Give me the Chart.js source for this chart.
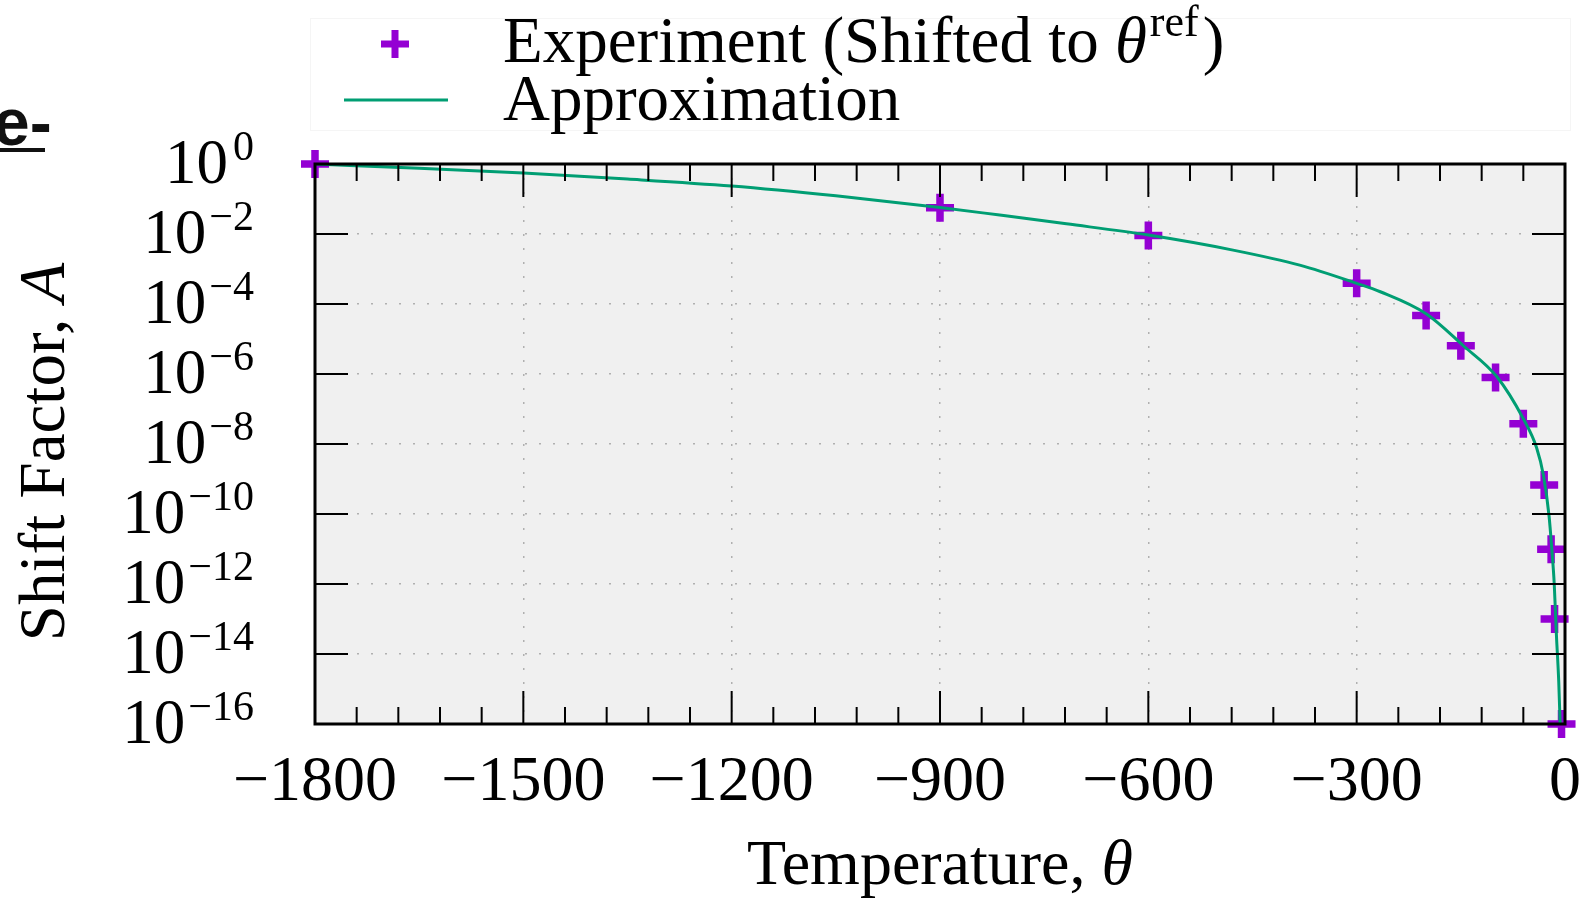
<!DOCTYPE html>
<html>
<head>
<meta charset="utf-8">
<script src="https://cdn.jsdelivr.net/npm/chart.js@4.4.1/dist/chart.umd.min.js"></script>
<style>
  body { margin: 0; background: #fff; }
  canvas { display: block; }
</style>
</head>
<body>
<canvas id="chart" width="1588" height="898"></canvas>
<script>
// experiment points (temperature, log10 of shift factor)
const tempExp = [-1800, -900, -600, -300, -200, -150, -100, -60, -30, -20, -15, -5];
const logExp = [0, -1.25, -2.04, -3.41, -4.33, -5.19, -6.1, -7.42, -9.17, -11.01, -13.0, -16.0];

// approximation curve
const tempFit = [-1800, -1650, -1500, -1350, -1200, -1050, -900, -814, -718, -600, -478, -382,
  -300, -266, -200, -146, -98, -60, -41, -31, -23, -19, -15.5, -12.5, -9, -7];
const logFit = [0, -0.12, -0.26, -0.43, -0.63, -0.91, -1.24, -1.46, -1.71, -2.03, -2.46, -2.89,
  -3.41, -3.65, -4.28, -5.2, -6.08, -7.28, -8.1, -8.9, -10.05, -11.0, -12.0, -13.4, -14.8, -16.0];

const xTicks = [-1800, -1500, -1200, -900, -600, -300, 0];
const yTickExp = [0, -2, -4, -6, -8, -10, -12, -14, -16];

const purple = "#9400d3";
const green = "#009e73";
const serif = "'Liberation Serif', 'DejaVu Serif', serif";

const toPoints = (xs, es) => xs.map((x, i) => ({ x: x, y: Math.pow(10, es[i]) }));

const minus = (s) => String(s).replace("-", "\u2212");

// background, frame, inward ticks, labels and legend
const decor = {
  id: "decor",
  beforeDraw(chart) {
    const { ctx, chartArea: a } = chart;
    ctx.save();
    ctx.fillStyle = "#f0f0f0";
    ctx.fillRect(a.left, a.top, a.right - a.left, a.bottom - a.top);
    ctx.restore();
  },
  afterDraw(chart) {
    const { ctx, chartArea: a } = chart;
    const xs = chart.scales.x;
    const ys = chart.scales.y;
    ctx.save();

    // tick marks
    ctx.strokeStyle = "#000";
    ctx.lineWidth = 2;
    ctx.beginPath();
    for (let v = -1800; v <= 0; v += 60) {
      const px = xs.getPixelForValue(v);
      const len = v % 300 === 0 ? 33 : 17;
      ctx.moveTo(px, a.bottom); ctx.lineTo(px, a.bottom - len);
      ctx.moveTo(px, a.top); ctx.lineTo(px, a.top + len);
    }
    yTickExp.forEach((e) => {
      const py = ys.getPixelForValue(Math.pow(10, e));
      ctx.moveTo(a.left, py); ctx.lineTo(a.left + 33, py);
      ctx.moveTo(a.right, py); ctx.lineTo(a.right - 33, py);
    });
    ctx.stroke();

    // frame
    ctx.lineWidth = 3;
    ctx.strokeRect(a.left, a.top, a.right - a.left, a.bottom - a.top);

    ctx.fillStyle = "#000";
    ctx.textBaseline = "alphabetic";

    // x tick labels
    ctx.font = "64px " + serif;
    ctx.textAlign = "center";
    xTicks.forEach((v) => {
      ctx.fillText(minus(v), xs.getPixelForValue(v), 800);
    });

    // y tick labels 10^n
    ctx.textAlign = "left";
    yTickExp.forEach((e) => {
      const py = ys.getPixelForValue(Math.pow(10, e));
      const sup = minus(e);
      ctx.font = "42px " + serif;
      const sw = ctx.measureText(sup).width;
      ctx.font = "63px " + serif;
      const mw = ctx.measureText("10").width;
      const right = 254;
      const gap = e === 0 ? 5 : 3;
      ctx.fillText("10", right - sw - gap - mw, py + 19);
      ctx.font = "42px " + serif;
      ctx.fillText(sup, right - sw, py - 4);
    });

    // x title
    ctx.font = "64px " + serif;
    const t1 = "Temperature, ";
    const w1 = ctx.measureText(t1).width;
    ctx.font = "italic 64px " + serif;
    const w2 = ctx.measureText("\u03b8").width;
    const cx = (a.left + a.right) / 2;
    let x0 = cx - (w1 + w2) / 2;
    ctx.font = "64px " + serif;
    ctx.fillText(t1, x0, 884);
    ctx.font = "italic 64px " + serif;
    ctx.fillText("\u03b8", x0 + w1, 884);

    // y title
    ctx.save();
    ctx.translate(64, 452);
    ctx.rotate(-Math.PI / 2);
    ctx.font = "65px " + serif;
    const y1 = "Shift Factor, ";
    const yw1 = ctx.measureText(y1).width;
    ctx.font = "italic 65px " + serif;
    const yw2 = ctx.measureText("A").width;
    x0 = -(yw1 + yw2) / 2;
    ctx.font = "65px " + serif;
    ctx.fillText(y1, x0, 0);
    ctx.font = "italic 65px " + serif;
    ctx.fillText("A", x0 + yw1, 0);
    ctx.restore();

    // legend box, barely visible
    ctx.strokeStyle = "#f5f5f5";
    ctx.lineWidth = 1;
    ctx.strokeRect(310.5, 18.5, 1260, 112);

    // legend marker
    ctx.strokeStyle = purple;
    ctx.lineWidth = 7;
    ctx.beginPath();
    ctx.moveTo(381, 44); ctx.lineTo(409, 44);
    ctx.moveTo(395, 30); ctx.lineTo(395, 58);
    ctx.stroke();
    // legend line
    ctx.strokeStyle = green;
    ctx.lineWidth = 3;
    ctx.beginPath();
    ctx.moveTo(344, 100); ctx.lineTo(448, 100);
    ctx.stroke();

    ctx.fillStyle = "#000";
    let lx = 503;
    ctx.font = "65px " + serif;
    const l1 = "Experiment (Shifted to ";
    ctx.fillText(l1, lx, 62);
    lx += ctx.measureText(l1).width;
    ctx.font = "italic 65px " + serif;
    ctx.fillText("\u03b8", lx, 62);
    lx += ctx.measureText("\u03b8").width + 3;
    ctx.font = "44px " + serif;
    ctx.fillText("ref", lx, 36);
    lx += ctx.measureText("ref").width + 4;
    ctx.font = "65px " + serif;
    ctx.fillText(")", lx, 62);
    ctx.fillText("Approximation", 503, 120);

    // cropped slide text at the left edge
    ctx.font = "bold 66px 'Liberation Sans', Arial, sans-serif";
    ctx.fillStyle = "#111";
    ctx.fillText("e-", -7, 145);
    ctx.fillRect(0, 148, 45, 4);

    ctx.restore();
  }
};

new Chart(document.getElementById("chart"), {
  type: "scatter",
  data: {
    datasets: [
      {
        label: "Experiment (Shifted to \u03b8ref)",
        data: toPoints(tempExp, logExp),
        pointStyle: "cross",
        pointRadius: 14,
        pointBorderWidth: 7.5,
        borderColor: purple,
        backgroundColor: purple,
        showLine: false,
        clip: false,
        order: 1,
      },
      {
        label: "Approximation",
        data: toPoints(tempFit, logFit),
        showLine: true,
        borderColor: green,
        borderWidth: 3,
        pointRadius: 0,
        cubicInterpolationMode: "monotone",
        order: 0,
      },
    ],
  },
  options: {
    responsive: false,
    animation: false,
    devicePixelRatio: 1,
    layout: { padding: { left: 315, right: 23, top: 164, bottom: 174 } },
    plugins: { legend: { display: false }, tooltip: { enabled: false } },
    scales: {
      x: {
        type: "linear",
        min: -1800,
        max: 0,
        ticks: { display: false, stepSize: 300 },
        grid: { color: "#b0b0b0", lineWidth: 1.5, drawTicks: false },
        border: { display: false, dash: [2, 12] },
        afterFit: (s) => { s.height = 0; },
      },
      y: {
        type: "logarithmic",
        min: 1e-16,
        max: 1,
        ticks: { display: false },
        afterBuildTicks: (s) => {
          s.ticks = yTickExp.map((e) => ({ value: Math.pow(10, e) }));
        },
        grid: { color: "#b0b0b0", lineWidth: 1.5, drawTicks: false },
        border: { display: false, dash: [2, 12] },
        afterFit: (s) => { s.width = 0; },
      },
    },
  },
  plugins: [decor],
});
</script>
</body>
</html>
